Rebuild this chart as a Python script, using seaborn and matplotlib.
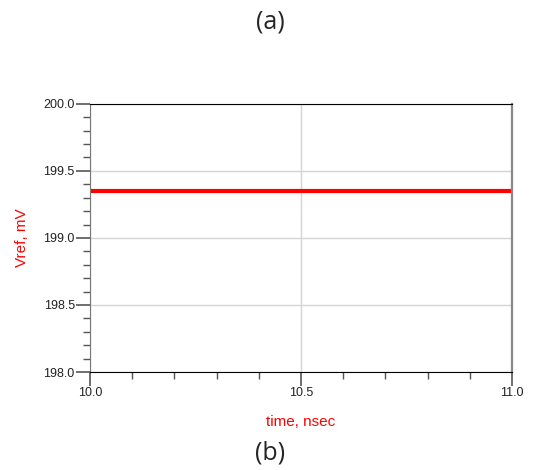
import numpy as np
import pandas as pd
import matplotlib
matplotlib.use("Agg")
import matplotlib.pyplot as plt
import seaborn as sns
from matplotlib.ticker import MultipleLocator, FormatStrFormatter

# data
time_ns = [10.0, 10.25, 10.5, 10.75, 11.0]
vref_mv = [199.35, 199.35, 199.35, 199.35, 199.35]

sns.set_style("white")
plt.rcParams["font.family"] = ["Liberation Sans", "DejaVu Sans"]

df = pd.DataFrame({"time": time_ns, "vref": vref_mv})

fig = plt.figure(figsize=(5.36, 4.70), dpi=100)
ax = fig.add_axes([0.168, 0.2085, 0.787, 0.5705])
sns.lineplot(data=df, x="time", y="vref", color="#ff0000", lw=3, ax=ax)

ax.set_xlim(10.0, 11.0)
ax.set_ylim(198.0, 200.0)
ax.xaxis.set_major_locator(MultipleLocator(0.5))
ax.xaxis.set_minor_locator(MultipleLocator(0.1))
ax.yaxis.set_major_locator(MultipleLocator(0.5))
ax.yaxis.set_minor_locator(MultipleLocator(0.1))
ax.xaxis.set_major_formatter(FormatStrFormatter("%.1f"))
ax.yaxis.set_major_formatter(FormatStrFormatter("%.1f"))
ax.grid(True, which="major", color="#d4d4d4", lw=1)
ax.tick_params(which="major", direction="out", length=10, width=1.2,
               colors="#555555", labelcolor="#222222", labelsize=9, pad=1)
ax.tick_params(which="minor", direction="out", length=5, width=1.0, colors="#555555")
ax.tick_params(axis="x", which="both", bottom=True)
ax.tick_params(axis="y", which="both", left=True)
ax.spines["top"].set_color("black")
ax.spines["bottom"].set_color("black")
ax.spines["left"].set_color("#777777")
ax.spines["right"].set_color("#888888")
ax.spines["right"].set_linewidth(1.6)
ax.set_xlabel("time, nsec", color="#ff0000", fontsize=11, va="center")
ax.set_ylabel("Vref, mV", color="#ff0000", fontsize=11, va="center")
ax.xaxis.set_label_coords(0.5, -0.187)
ax.yaxis.set_label_coords(-0.162, 0.5)

fig.text(0.504, 0.953, "(a)", ha="center", va="center", fontsize=18,
         family=["Open Sans", "DejaVu Sans"])
fig.text(0.504, 0.036, "(b)", ha="center", va="center", fontsize=18,
         family=["Open Sans", "DejaVu Sans"])

fig.savefig("out.png", dpi=100)
